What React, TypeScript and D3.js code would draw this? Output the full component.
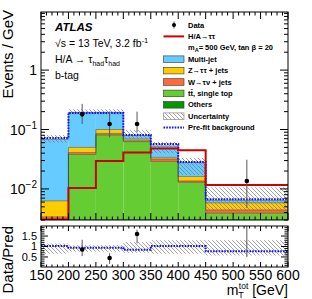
import * as d3 from "d3";

const WIDTH = 312;
const HEIGHT = 299;
const MAIN = { left: 41, right: 288, top: 12, bottom: 220 };
const RATIO = { top: 226, bottom: 267 };
const FONT = "Liberation Sans, Arial, Helvetica, sans-serif";

// bin edges in GeV
const binEdges = [150, 200, 250, 300, 350, 400, 450, 600];

// stacked backgrounds (Events / GeV), bottom to top
const others = [0.0002, 0.001, 0.001, 0.0008, 0.0006, 0.0004, 0.0002];
const ttbar = [0.0008, 0.037, 0.08, 0.0617, 0.0284, 0.0125, 0.0037];
const wjets = [0.0024, 0.003, 0.005, 0.0025, 0.003, 0.0007, 0.00054];
const zjets = [0.0029, 0.009, 0.014, 0.004, 0.002, 0.0026, 0.0014];
const multijet = [0.0617, 0.145, 0.095, 0.01, 0.019, 0.0115, 0.0006];

// signal H/A -> tautau, mA = 500 GeV, tan beta = 20
const signal = [0.001, 0.0104, 0.0295, 0.0412, 0.048, 0.0446, 0.0117];

// pre-fit background total
const prefit = [0.072, 0.19, 0.19, 0.081, 0.057, 0.0285, 0.0067];

// relative uncertainty of the post-fit background
const uncUp = [0.19, 0.12, 0.12, 0.24, 0.17, 0.2, 0.65];
const uncDown = [0.12, 0.08, 0.08, 0.12, 0.25, 0.38, 0.35];

// data (null = no point)
const dataVal = [null, 0.18, 0.124, 0.124, null, null, 0.0136];
const dataLo = [null, 0.124, 0.074, 0.09, null, null, 0.0048];
const dataHi = [null, 0.27, 0.2, 0.2, null, null, 0.031];

// ratio panel
const ratioData = [null, 0.86, 0.45, 1.6, null, null, 2.1];
const ratioLo = [null, 0.54, 0.17, 1.15, null, null, 0.5];
const ratioHi = [null, 1.32, 0.68, 1.8, null, null, 4.0];
const ratioPrefit = [1.02, 0.94, 0.94, 0.84, 1.02, 1.02, 0.77];
const ratioBandLo = [0.65, 0.75, 0.75, 0.7, 0.65, 0.65, 0.57];
const ratioBandHi = [1.14, 1.06, 1.06, 1.22, 1.3, 1.3, 1.3];

const xTicks = [150, 200, 250, 300, 350, 400, 450, 500, 550, 600];
const ratioLabels = [0.5, 1, 1.5];

const layers = [
  { name: "others", color: "#009a00", values: others },
  { name: "ttbar", color: "#66cc33", values: ttbar },
  { name: "wjets", color: "#ff6a3d", values: wjets },
  { name: "zjets", color: "#ffcc00", values: zjets },
  { name: "multijet", color: "#66ccff", values: multijet },
];

const legendItems = [
  { label: "Data", kind: "data" },
  { label: "H/A\u2192\u03c4\u03c4", kind: "line", color: "#cc0000" },
  { label: "m_A= 500 GeV, tan  \u03b2 = 20", kind: "none" },
  { label: "Multi-jet", kind: "box", color: "#66ccff" },
  { label: "Z\u2192\u03c4\u03c4 + jets", kind: "box", color: "#ffcc00" },
  { label: "W\u2192\u03c4\u03bd + jets", kind: "box", color: "#ff6a3d" },
  { label: "t\u0074\u0304, single top", kind: "box", color: "#66cc33" },
  { label: "Others", kind: "box", color: "#009a00" },
  { label: "Uncertainty", kind: "hatch" },
  { label: "Pre-fit background", kind: "dash" },
];

const x = d3.scaleLinear().domain([150, 600]).range([MAIN.left, MAIN.right]);
const y = d3.scaleLog().domain([0.003, 9.5]).range([MAIN.bottom, MAIN.top]);
const yr = d3.scaleLinear().domain([0.02, 1.98]).range([RATIO.bottom, RATIO.top]);

const nBins = binEdges.length - 1;
const bins = d3.range(nBins);

const stepPath = (vals: number[], scale: (v: number) => number) => {
  let p = "";
  bins.forEach((i) => {
    const yy = scale(vals[i]);
    p += `${i === 0 ? "M" : "L"}${x(binEdges[i])},${yy}L${x(binEdges[i + 1])},${yy}`;
  });
  return p;
};

const clampLog = (v: number) => Math.max(v, 0.003);

export default function App() {
  // cumulative stack
  const cum: number[][] = [];
  let running = bins.map(() => 0);
  layers.forEach((l) => {
    const lower = running.slice();
    running = running.map((r, i) => r + l.values[i]);
    cum.push(lower, running.slice());
  });
  const total = running;

  const stackRects = layers.map((l, li) => {
    const lower = cum[li * 2];
    const upper = cum[li * 2 + 1];
    return bins.map((i) => {
      const y0 = y(clampLog(lower[i] || 0.0001));
      const y1 = y(clampLog(upper[i]));
      return (
        <rect
          key={l.name + i}
          x={x(binEdges[i])}
          y={Math.min(y0, y1)}
          width={x(binEdges[i + 1]) - x(binEdges[i])}
          height={Math.abs(y0 - y1)}
          fill={l.color}
        />
      );
    });
  });

  const outlines = layers.map((l, li) => (
    <path
      key={"o" + l.name}
      d={stepPath(cum[li * 2 + 1].map(clampLog), y) + `L${x(600)},${MAIN.bottom}`}
      fill="none"
      stroke="#3a3a3a"
      strokeWidth={0.5}
    />
  ));

  // x ticks
  const xTickMarks = (top: number, bottom: number, major: number, minor: number) => {
    const out: JSX.Element[] = [];
    for (let v = 150; v <= 600; v += 10) {
      const len = v % 50 === 0 ? major : minor;
      out.push(
        <g key={"xt" + top + v}>
          <line x1={x(v)} x2={x(v)} y1={bottom} y2={bottom - len} stroke="#000" strokeWidth={1} />
          <line x1={x(v)} x2={x(v)} y1={top} y2={top + len} stroke="#000" strokeWidth={1} />
        </g>
      );
    }
    return out;
  };

  const yLogTicks: JSX.Element[] = [];
  for (let e = -3; e <= 0; e++) {
    for (let k = 1; k <= 9; k++) {
      const v = k * Math.pow(10, e);
      if (v < 0.003 || v > 9.5) continue;
      const len = k === 1 ? 8 : 4;
      const yy = y(v);
      yLogTicks.push(
        <g key={"yt" + e + k}>
          <line x1={MAIN.left} x2={MAIN.left + len} y1={yy} y2={yy} stroke="#000" />
          <line x1={MAIN.right} x2={MAIN.right - len} y1={yy} y2={yy} stroke="#000" />
        </g>
      );
    }
  }

  const yRatioTicks: JSX.Element[] = [];
  for (let v = 0.1; v <= 1.95; v += 0.1) {
    const vv = Math.round(v * 10) / 10;
    const major = Math.abs(vv * 2 - Math.round(vv * 2)) < 1e-6;
    const len = major ? 7 : 3.5;
    yRatioTicks.push(
      <g key={"yr" + vv}>
        <line x1={MAIN.left} x2={MAIN.left + len} y1={yr(vv)} y2={yr(vv)} stroke="#000" />
        <line x1={MAIN.right} x2={MAIN.right - len} y1={yr(vv)} y2={yr(vv)} stroke="#000" />
      </g>
    );
  }

  const legendX = 163.5;
  const legendTextX = 188;

  return (
    <svg
      width={WIDTH}
      height={HEIGHT}
      style={{ position: "absolute", left: 0, top: 0, background: "#fff" }}
      fontFamily={FONT}
    >
      <defs>
        <pattern id="hatch" patternUnits="userSpaceOnUse" width={4} height={4}>
          <path d="M-1,-1L5,5M-1,3L1,5M3,-1L5,1" stroke="#7a7a7a" strokeWidth={0.7} />
        </pattern>
        <clipPath id="mainClip">
          <rect x={MAIN.left} y={MAIN.top} width={MAIN.right - MAIN.left} height={MAIN.bottom - MAIN.top} />
        </clipPath>
        <clipPath id="ratioClip">
          <rect x={MAIN.left} y={RATIO.top} width={MAIN.right - MAIN.left} height={RATIO.bottom - RATIO.top} />
        </clipPath>
      </defs>
      <rect width={WIDTH} height={HEIGHT} fill="#fff" />

      {/* main panel */}
      <g clipPath="url(#mainClip)">
        {stackRects}
        {outlines}
        {bins.map((i) => {
          const hi = y(total[i] * (1 + uncUp[i]));
          const lo = y(clampLog(total[i] * (1 - uncDown[i])));
          return (
            <rect
              key={"unc" + i}
              x={x(binEdges[i])}
              y={hi}
              width={x(binEdges[i + 1]) - x(binEdges[i])}
              height={lo - hi}
              fill="url(#hatch)"
            />
          );
        })}
        <path
          d={stepPath(prefit, y)}
          fill="none"
          stroke="#1010ff"
          strokeWidth={2}
          strokeDasharray="1.6,1.2"
        />
        <path
          d={stepPath(signal.map((v) => Math.max(v, 0.00305)), y)}
          fill="none"
          stroke="#cc0000"
          strokeWidth={2}
        />
        {bins.map((i) => {
          const v = dataVal[i];
          if (v === null) return null;
          const cx = x((binEdges[i] + binEdges[i + 1]) / 2);
          return (
            <g key={"d" + i}>
              <line x1={cx} x2={cx} y1={y(dataHi[i] as number)} y2={y(dataLo[i] as number)} stroke="#555" strokeWidth={1} />
              <circle cx={cx} cy={y(v)} r={2.3} fill="#000" />
            </g>
          );
        })}
      </g>
      <rect
        x={MAIN.left}
        y={MAIN.top}
        width={MAIN.right - MAIN.left}
        height={MAIN.bottom - MAIN.top}
        fill="none"
        stroke="#000"
        strokeWidth={1}
      />
      {xTickMarks(MAIN.top, MAIN.bottom, 7, 3.5)}
      {yLogTicks}

      {/* y labels main */}
      <text x={37} y={75} fontSize={14} textAnchor="end">1</text>
      <text x={37} y={y(0.1) + 5} fontSize={14} textAnchor="end">
        10<tspan dy={-6} fontSize={10}>{"\u22121"}</tspan>
      </text>
      <text x={37} y={y(0.01) + 5} fontSize={14} textAnchor="end">
        10<tspan dy={-6} fontSize={10}>{"\u22122"}</tspan>
      </text>
      <text transform="translate(13,10) rotate(-90)" fontSize={15} textAnchor="end">
        Events / GeV
      </text>

      {/* ATLAS labels */}
      <text x={55} y={31} fontSize={11.5} fontWeight="bold" fontStyle="italic">ATLAS</text>
      <text x={55} y={47} fontSize={10.5}>
        {"\u221as = 13 TeV, 3.2 fb"}
        <tspan dy={-4} fontSize={7.5}>{"-1"}</tspan>
      </text>
      <text x={55} y={63} fontSize={10.5}>
        {"H/A \u2192 \u03c4"}
        <tspan dy={2.5} fontSize={7}>had</tspan>
        <tspan dy={-2.5}>{"\u03c4"}</tspan>
        <tspan dy={2.5} fontSize={7}>had</tspan>
      </text>
      <text x={55} y={79} fontSize={10.5}>b-tag</text>

      {/* legend */}
      {legendItems.map((it, i) => {
        const cy = 25 + i * 11.4;
        let sym: JSX.Element | null = null;
        if (it.kind === "data") {
          sym = (
            <g>
              <line x1={174} x2={174} y1={cy - 3.5} y2={cy + 3.5} stroke="#555" />
              <circle cx={174} cy={cy} r={2} fill="#000" />
            </g>
          );
        } else if (it.kind === "line") {
          sym = <line x1={legendX} x2={184} y1={cy} y2={cy} stroke={it.color} strokeWidth={2} />;
        } else if (it.kind === "box") {
          sym = <rect x={legendX} y={cy - 3.3} width={20.5} height={6.6} fill={it.color} stroke="#333" strokeWidth={0.6} />;
        } else if (it.kind === "hatch") {
          sym = <rect x={legendX} y={cy - 3.3} width={20.5} height={6.6} fill="url(#hatch)" stroke="#777" strokeWidth={0.6} />;
        } else if (it.kind === "dash") {
          sym = (
            <line x1={legendX} x2={184} y1={cy} y2={cy} stroke="#1010ff" strokeWidth={2} strokeDasharray="1.6,1.2" />
          );
        }
        const label =
          it.kind === "none" ? (
            <text x={legendTextX} y={cy + 2.6} fontSize={7.5} fontWeight="bold">
              m<tspan dy={1.5} fontSize={5.5}>A</tspan>
              <tspan dy={-1.5}>{"= 500 GeV, tan  \u03b2 = 20"}</tspan>
            </text>
          ) : (
            <text x={legendTextX} y={cy + 2.6} fontSize={7.5} fontWeight="bold">
              {it.label}
            </text>
          );
        return (
          <g key={"lg" + i}>
            {sym}
            {label}
          </g>
        );
      })}

      {/* ratio panel */}
      <g clipPath="url(#ratioClip)">
        {bins.map((i) => (
          <rect
            key={"rb" + i}
            x={x(binEdges[i])}
            y={yr(ratioBandHi[i])}
            width={x(binEdges[i + 1]) - x(binEdges[i])}
            height={yr(ratioBandLo[i]) - yr(ratioBandHi[i])}
            fill="url(#hatch)"
          />
        ))}
        <path
          d={stepPath(ratioPrefit, yr)}
          fill="none"
          stroke="#1010ff"
          strokeWidth={2}
          strokeDasharray="1.6,1.2"
        />
        {bins.map((i) => {
          const v = ratioData[i];
          if (v === null) return null;
          const cx = x((binEdges[i] + binEdges[i + 1]) / 2);
          return (
            <g key={"r" + i}>
              <line x1={cx} x2={cx} y1={yr(ratioHi[i] as number)} y2={yr(ratioLo[i] as number)} stroke="#555" strokeWidth={1} />
              <circle cx={cx} cy={yr(v)} r={2.3} fill="#000" />
            </g>
          );
        })}
      </g>
      <rect
        x={MAIN.left}
        y={RATIO.top}
        width={MAIN.right - MAIN.left}
        height={RATIO.bottom - RATIO.top}
        fill="none"
        stroke="#000"
        strokeWidth={1}
      />
      {xTickMarks(RATIO.top, RATIO.bottom, 5, 2.5)}
      {yRatioTicks}
      {ratioLabels.map((v) => (
        <text key={"rl" + v} x={37} y={yr(v) + 3.8} fontSize={11} textAnchor="end">
          {String(v)}
        </text>
      ))}
      <text transform="translate(13,226) rotate(-90)" fontSize={15} textAnchor="end">
        Data/Pred
      </text>

      {/* x labels */}
      {xTicks.map((v) => (
        <text key={"xl" + v} x={x(v)} y={280} fontSize={14} textAnchor="middle">
          {v}
        </text>
      ))}
      <text x={288} y={295} fontSize={14} textAnchor="end">
        m<tspan dy={3} fontSize={9}>T</tspan>
        <tspan dy={-9.5} dx={-5} fontSize={8.5}>tot</tspan>
        <tspan dy={6.5}>{" [GeV]"}</tspan>
      </text>
    </svg>
  );
}
